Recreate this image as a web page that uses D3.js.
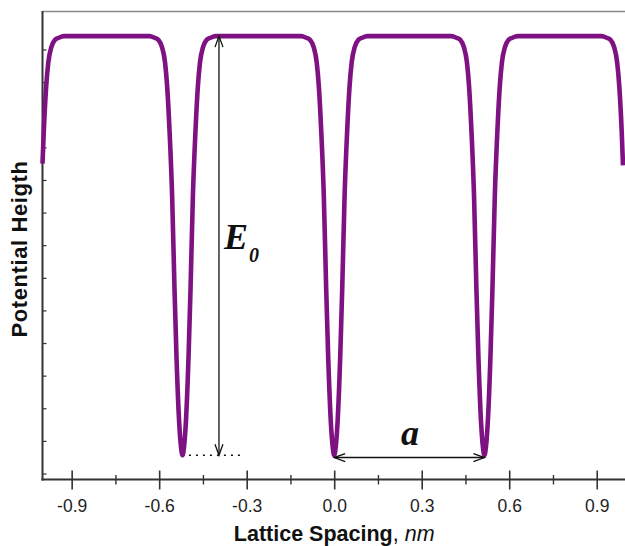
<!DOCTYPE html>
<html><head><meta charset="utf-8">
<script src="https://cdn.jsdelivr.net/npm/d3@7"></script>
<style>body{margin:0;background:#fff}svg{display:block}</style>
</head><body>
<script>
// ---- data ----
const potX = [-1.0, -0.9954, -0.9875, -0.98, -0.9697, -0.9577, -0.944, -0.927,
  -0.633, -0.616, -0.6023, -0.5903, -0.58, -0.5725, -0.5646, -0.5557, -0.5474, -0.5406, -0.5313, -0.5251, -0.52,
  -0.5149, -0.5087, -0.4994, -0.4926, -0.4843, -0.4754, -0.4675, -0.46, -0.4497, -0.4377, -0.424, -0.407,
  -0.113, -0.096, -0.0823, -0.0703, -0.060, -0.0525, -0.0446, -0.0357, -0.0274, -0.0206, -0.0113, -0.0051, 0.0,
  0.0051, 0.0113, 0.0206, 0.0274, 0.0357, 0.0446, 0.0525, 0.060, 0.0703, 0.0823, 0.096, 0.113,
  0.402, 0.419, 0.4327, 0.4447, 0.455, 0.4625, 0.4704, 0.4793, 0.4876, 0.4944, 0.5037, 0.5099, 0.515,
  0.5201, 0.5263, 0.5356, 0.5424, 0.5507, 0.5596, 0.5675, 0.575, 0.5853, 0.5973, 0.611, 0.628,
  0.917, 0.934, 0.9477, 0.9597, 0.97, 0.9775, 0.9854, 0.99];
const potV = [10.5, 11.53, 12.85, 13.61, 14.07, 14.29, 14.36, 14.41,
  14.41, 14.36, 14.29, 14.07, 13.61, 12.85, 11.53, 9.54, 6.63, 4.57, 2.54, 1.81, 1.56,
  1.81, 2.54, 4.57, 6.63, 9.54, 11.53, 12.85, 13.61, 14.07, 14.29, 14.36, 14.41,
  14.41, 14.36, 14.29, 14.07, 13.61, 12.85, 11.53, 9.54, 6.63, 4.57, 2.54, 1.81, 1.56,
  1.81, 2.54, 4.57, 6.63, 9.54, 11.53, 12.85, 13.61, 14.07, 14.29, 14.36, 14.41,
  14.41, 14.36, 14.29, 14.07, 13.61, 12.85, 11.53, 9.54, 6.63, 4.57, 2.54, 1.81, 1.56,
  1.81, 2.54, 4.57, 6.63, 9.54, 11.53, 12.85, 13.61, 14.07, 14.29, 14.36, 14.41,
  14.41, 14.36, 14.29, 14.07, 13.61, 12.85, 11.53, 10.45];
const xMajorTicks = [-0.9, -0.6, -0.3, 0.0, 0.3, 0.6, 0.9];
const xTickLabels = ["-0.9", "-0.6", "-0.3", "0.0", "0.3", "0.6", "0.9"];
const xMinorTicks = [-0.75, -0.45, -0.15, 0.15, 0.45, 0.75];
const yTicks = [1,2,3,4,5,6,7,8,9,10,11,12,13,14];
const xTitleBold = "Lattice Spacing";
const xTitleUnit = "nm";
const yTitle = "Potential Heigth";
// annotations (data units)
const e0ArrowX = -0.395, e0Top = 14.41, e0Bottom = 1.56;
const aStart = 0.0, aEnd = 0.515, aLevel = 1.49;
const dotFrom = -0.498, dotTo = -0.323, dotLevel = 1.56;

const W = 625, H = 546;
const svg = d3.select("body").append("svg").attr("width", W).attr("height", H);
const x = d3.scaleLinear().domain([-1, 1]).range([42.5, 625.9]);
const y = d3.scaleLinear().domain([0.816, 15.18]).range([479.5, 11]);

svg.append("defs").append("clipPath").attr("id","clip")
  .append("rect").attr("x", 40).attr("y", 11).attr("width", 590).attr("height", 470);

// top border
svg.append("line").attr("x1", x(-1)).attr("x2", W).attr("y1", 11.5).attr("y2", 11.5)
  .attr("stroke", "#8a8a8a").attr("stroke-width", 1.5);

// y axis (ticks inward, no labels)
const yAxis = d3.axisRight(y).tickValues(yTicks).tickSize(4).tickFormat("");
const gy = svg.append("g").attr("transform", `translate(${x(-1)},0)`).call(yAxis);
gy.select(".domain").remove();
gy.selectAll(".tick line").attr("stroke", "#333").attr("stroke-width", 1.2);
svg.append("line").attr("x1", x(-1)).attr("x2", x(-1)).attr("y1", 11).attr("y2", y.range()[0] + 1)
  .attr("stroke", "#333").attr("stroke-width", 2);

// x axis
const xAxis = svg.append("g");
xAxis.append("line").attr("x1", x(-1) - 1).attr("x2", W).attr("y1", y.range()[0]).attr("y2", y.range()[0])
  .attr("stroke", "#333").attr("stroke-width", 2);
const gxMaj = svg.append("g").attr("transform", `translate(0,${y.range()[0] - 9})`)
  .call(d3.axisBottom(x).tickValues(xMajorTicks).tickSize(19).tickFormat((d, i) => xTickLabels[i]));
gxMaj.select(".domain").remove();
gxMaj.selectAll(".tick line").attr("stroke", "#333").attr("stroke-width", 1.6);
gxMaj.selectAll(".tick text").attr("y", 41).attr("dy", 0)
  .attr("font-family", "Liberation Sans, Arial, sans-serif").attr("font-size", 17.5).attr("fill", "#222");
const gxMin = svg.append("g").attr("transform", `translate(0,${y.range()[0] - 4.5})`)
  .call(d3.axisBottom(x).tickValues(xMinorTicks).tickSize(9.5).tickFormat(""));
gxMin.select(".domain").remove();
gxMin.selectAll(".tick line").attr("stroke", "#333").attr("stroke-width", 1.4);

// axis titles
const xt = svg.append("text").attr("x", x(0)).attr("y", 541).attr("text-anchor", "middle")
  .attr("font-family", "Liberation Sans, Arial, sans-serif").attr("font-size", 21.5).attr("fill", "#111");
xt.append("tspan").attr("font-weight", "bold").text(xTitleBold);
xt.append("tspan").text(", ");
xt.append("tspan").attr("font-style", "italic").text(xTitleUnit);

svg.append("text").attr("transform", "translate(27,249) rotate(-90)").attr("text-anchor", "middle")
  .attr("font-family", "Liberation Sans, Arial, sans-serif").attr("font-size", 22)
  .attr("letter-spacing", 0.6)
  .attr("font-weight", "bold").attr("fill", "#111").text(yTitle);

// potential curve
const pts = potX.map((d, i) => [d, potV[i]]);
svg.append("path").attr("clip-path", "url(#clip)")
  .attr("d", d3.line().x(d => x(d[0])).y(d => y(d[1])).curve(d3.curveMonotoneX)(pts))
  .attr("fill", "none").attr("stroke", "#7e1283").attr("stroke-width", 4.6)
  .attr("stroke-linejoin", "round").attr("stroke-linecap", "butt");

// annotations
const ann = svg.append("g").attr("stroke", "#111").attr("stroke-width", 1.3).attr("fill", "none");
function head(px, py, dx, dy) { // open arrowhead at (px,py) pointing along (dx,dy)
  const L = 11, s = 4;
  const nx = -dy, ny = dx;
  ann.append("path").attr("d",
    `M${px - dx*L + nx*s},${py - dy*L + ny*s}L${px},${py}L${px - dx*L - nx*s},${py - dy*L - ny*s}`);
}
const ex = x(e0ArrowX);
ann.append("line").attr("x1", ex).attr("x2", ex).attr("y1", y(e0Top)).attr("y2", y(e0Bottom));
head(ex, y(e0Top), 0, -1);
head(ex, y(e0Bottom), 0, 1);
const ay = y(aLevel);
ann.append("line").attr("x1", x(aStart)).attr("x2", x(aEnd)).attr("y1", ay).attr("y2", ay);
head(x(aStart), ay, -1, 0);
head(x(aEnd), ay, 1, 0);
svg.append("line").attr("x1", x(dotFrom)).attr("x2", x(dotTo)).attr("y1", y(dotLevel)).attr("y2", y(dotLevel))
  .attr("stroke", "#111").attr("stroke-width", 1.3).attr("stroke-dasharray", "2,5");

const e0 = svg.append("text").attr("x", 224).attr("y", 249)
  .attr("font-family", "Liberation Serif, Times New Roman, serif").attr("font-weight", "bold")
  .attr("font-style", "italic").attr("fill", "#111");
e0.append("tspan").attr("font-size", 36).text("E");
e0.append("tspan").attr("font-size", 20).attr("dy", 13).attr("dx", 1).text("0");

svg.append("text").attr("x", 410).attr("y", 445).attr("text-anchor", "middle")
  .attr("font-family", "Liberation Serif, Times New Roman, serif").attr("font-weight", "bold")
  .attr("font-style", "italic").attr("font-size", 36).attr("fill", "#111").text("a");
</script>
</body></html>
